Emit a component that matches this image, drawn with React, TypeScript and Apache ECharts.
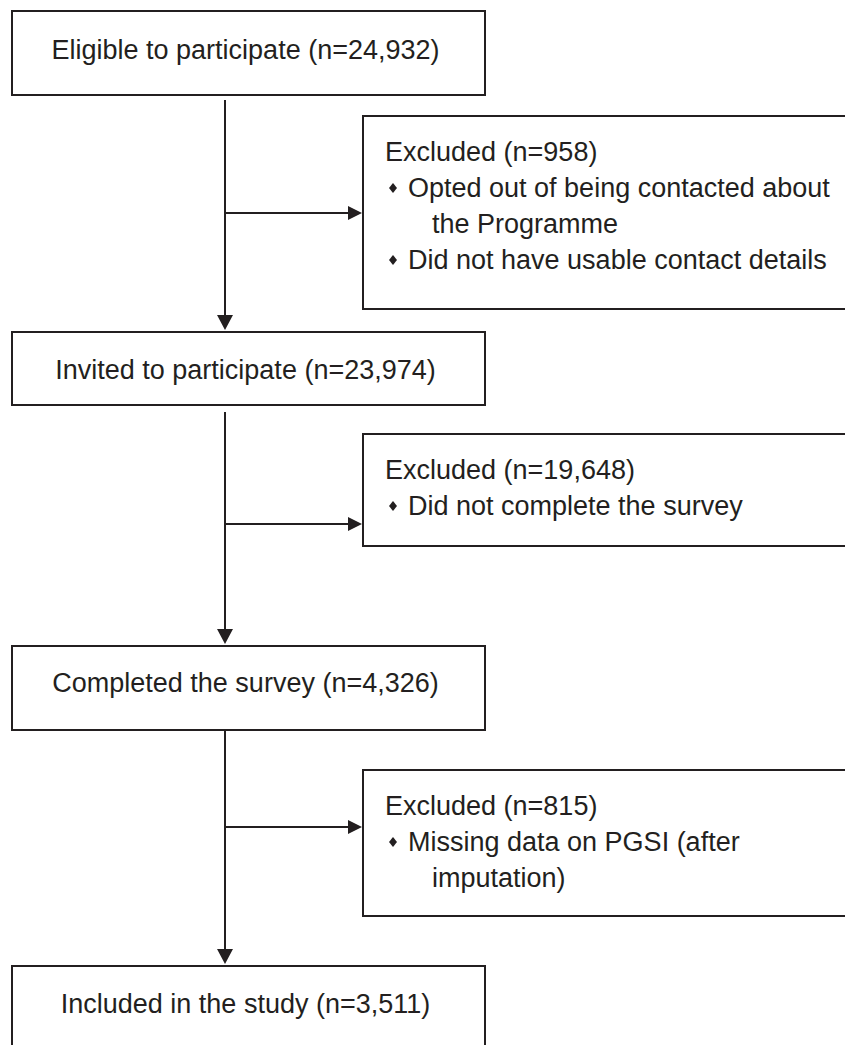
import React, { useEffect, useRef } from "react";
import * as echarts from "echarts";

// ---- data ----
const stageLabels = [
  "Eligible to participate",
  "Invited to participate",
  "Completed the survey",
  "Included in the study",
];
const stageCounts = [24932, 23974, 4326, 3511];
const excludedCounts = [958, 19648, 815];
// each reason: array of wrapped lines
const excludedReasons: string[][][] = [
  [["Opted out of being contacted about", "the Programme"], ["Did not have usable contact details"]],
  [["Did not complete the survey"]],
  [["Missing data on PGSI (after", "imputation)"]],
];

// ---- layout (pixels) ----
const stageBoxTop = [11, 332, 646, 966];
const stageBoxBottom = [95, 405, 730, 1070];
const stageTextY = [50, 370, 683, 1004];
const lineStartY = [100, 412, 730];
const excludedTop = [116, 434, 770];
const excludedBottom = [309, 546, 916];
const excludedArrowY = [213, 524, 827];

const FG = "#231f20";
const FONT = "Liberation Sans, Arial, Helvetica, sans-serif";
const FS = 27;
const LINE_H = 36;
const MAIN_X = 225;
const BOX_L = 12;
const BOX_R = 485;
const EX_L = 363;
const EX_R = 852;

const fmt = (n: number) => n.toLocaleString("en-US");

function buildGraphic() {
  const els: any[] = [];
  // main boxes
  stageLabels.forEach((lab, i) => {
    els.push({
      type: "rect",
      shape: { x: BOX_L, y: stageBoxTop[i], width: BOX_R - BOX_L, height: stageBoxBottom[i] - stageBoxTop[i] },
      style: { fill: "#fff", stroke: FG, lineWidth: 2 },
    });
    els.push({
      type: "text",
      x: (BOX_L + BOX_R) / 2 - 3,
      y: stageTextY[i],
      style: {
        text: `${lab} (n=${fmt(stageCounts[i])})`,
        font: `${FS}px ${FONT}`,
        fill: FG,
        textAlign: "center",
        textVerticalAlign: "middle",
      },
    });
  });
  // vertical connectors + arrowheads
  for (let i = 0; i < 3; i++) {
    const tip = stageBoxTop[i + 1] - 2;
    els.push({
      type: "line",
      shape: { x1: MAIN_X, y1: lineStartY[i], x2: MAIN_X, y2: tip - 12 },
      style: { stroke: FG, lineWidth: 2 },
    });
    els.push({
      type: "polygon",
      shape: { points: [[MAIN_X - 8, tip - 15], [MAIN_X + 8, tip - 15], [MAIN_X, tip]] },
      style: { fill: FG },
    });
  }
  // excluded boxes
  excludedCounts.forEach((c, i) => {
    const top = excludedTop[i];
    els.push({
      type: "rect",
      shape: { x: EX_L, y: top, width: EX_R - EX_L, height: excludedBottom[i] - top },
      style: { fill: "#fff", stroke: FG, lineWidth: 2 },
    });
    // horizontal arrow
    const ay = excludedArrowY[i];
    els.push({
      type: "line",
      shape: { x1: MAIN_X, y1: ay, x2: EX_L - 12, y2: ay },
      style: { stroke: FG, lineWidth: 2 },
    });
    els.push({
      type: "polygon",
      shape: { points: [[EX_L - 15, ay - 7], [EX_L - 15, ay + 7], [EX_L - 1, ay]] },
      style: { fill: FG },
    });
    let y = top + 36;
    els.push({
      type: "text",
      x: 385,
      y,
      style: { text: `Excluded (n=${fmt(c)})`, font: `${FS}px ${FONT}`, fill: FG, textAlign: "left", textVerticalAlign: "middle" },
    });
    excludedReasons[i].forEach((lines) => {
      lines.forEach((ln, j) => {
        y += LINE_H;
        if (j === 0) {
          els.push({
            type: "polygon",
            shape: { points: [[393, y - 5], [397, y], [393, y + 5], [389, y]] },
            style: { fill: FG },
          });
        }
        els.push({
          type: "text",
          x: j === 0 ? 408 : 432,
          y,
          style: { text: ln, font: `${FS}px ${FONT}`, fill: FG, textAlign: "left", textVerticalAlign: "middle" },
        });
      });
    });
  });
  return els;
}

export default function App() {
  const ref = useRef<HTMLDivElement>(null);
  useEffect(() => {
    if (!ref.current) return;
    const chart = echarts.init(ref.current, undefined, { renderer: "svg" });
    chart.setOption({
      animation: false,
      backgroundColor: "#ffffff",
      graphic: { elements: buildGraphic() },
    });
    return () => chart.dispose();
  }, []);
  return (
    <div
      ref={ref}
      style={{ position: "absolute", left: 0, top: 0, width: 845, height: 1045, background: "#fff" }}
    />
  );
}
